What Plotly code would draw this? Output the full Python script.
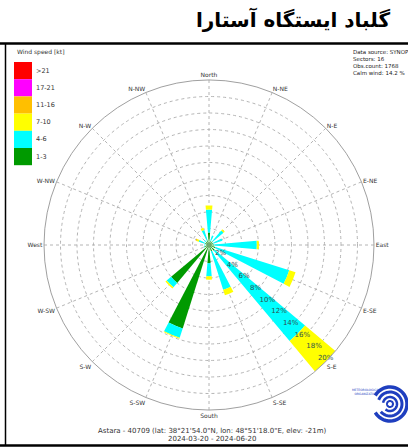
import numpy as np
import plotly.graph_objects as go

W, H = 408, 448

# 16 compass sectors, clockwise from north
directions = ["North", "N-NE", "N-E", "E-NE", "East", "E-SE", "S-E", "S-SE",
              "South", "S-SW", "S-W", "W-SW", "West", "W-NW", "N-W", "N-NW"]

# Frequency (%) of each wind-speed class per sector
speed_classes = ["1-3", "4-6", "7-10", "11-16", "17-21", ">21"]
freq_1_3 = [1.5, 0.5, 0.6, 0.5, 0.6, 0.8, 0.9, 0.8, 2.2, 10.6, 6.0, 0.6, 0.4, 0.5, 0.5, 0.6]
freq_4_6 = [2.8, 0.7, 1.7, 1.2, 5.2, 9.4, 14.3, 4.9, 1.6, 1.2, 0.7, 0.1, 0.2, 0.8, 0.3, 1.3]
freq_7_10 = [0.5, 0.0, 0.2, 0.0, 0.25, 0.8, 4.8, 0.7, 0.4, 0.1, 0.2, 0.0, 0.0, 0.3, 0.0, 0.3]
freq_11_16 = [0, 0, 0, 0, 0, 0, 0, 0, 0, 0, 0, 0, 0, 0.1, 0, 0]
freq_17_21 = [0] * 16
freq_gt21 = [0] * 16
class_colors = ["#009a00", "#00ffff", "#ffff00", "#ffbf00", "#ff00ff", "#ff0000"]

radial_ticks = [2, 4, 6, 8, 10, 12, 14, 16, 18, 20]
radial_label_dir = 135  # compass bearing along which the % scale is written
info_lines = ["Data source: SYNOP", "Sectors: 16", "Obs.count: 1768", "Calm wind: 14.2 %"]
title_text = "گلباد ایستگاه آستارا"
station_line = "Astara - 40709 (lat: 38°21'54.0\"N, lon: 48°51'18.0\"E, elev: -21m)"
period_line = "2024-03-20 - 2024-06-20"

angles = [i * 360 / len(directions) for i in range(len(directions))]
series = [freq_1_3, freq_4_6, freq_7_10, freq_11_16, freq_17_21, freq_gt21]

fig = go.Figure()
for name, vals, col in zip(speed_classes, series, class_colors):
    fig.add_trace(go.Barpolar(
        r=vals, theta=angles, width=[10] * len(angles), name=name,
        marker=dict(color=col, line=dict(width=0)), showlegend=False,
    ))

# percentage scale written on top of the bars
fig.add_trace(go.Scatterpolar(
    r=radial_ticks, theta=[radial_label_dir] * len(radial_ticks),
    text=[f"{v}%" for v in radial_ticks], mode="text", textposition="top center",
    textfont=dict(size=7, color="#2f4f4f", family="DejaVu Sans"),
    showlegend=False, hoverinfo="skip",
))

# polar area in pixels: centre (209, 245), radius 165
cx, cy, R = 209, 245, 165
fig.update_layout(
    width=W, height=H,
    margin=dict(l=0, r=0, t=0, b=0),
    paper_bgcolor="white",
    font=dict(family="DejaVu Sans", size=6, color="#333333"),
    polar=dict(
        domain=dict(x=[(cx - R) / W, (cx + R) / W], y=[1 - (cy + R) / H, 1 - (cy - R) / H]),
        bgcolor="white",
        barmode="stack",
        angularaxis=dict(
            rotation=90, direction="clockwise",
            tickmode="array", tickvals=angles, ticktext=directions,
            showline=True, linecolor="#a0a0a0", linewidth=1,
            showgrid=True, gridcolor="#b4b4b4", griddash="dot", gridwidth=1,
            ticks="", tickfont=dict(size=6, color="#333333"),
        ),
        radialaxis=dict(
            range=[0, 20], angle=-45,
            tickmode="array", tickvals=radial_ticks, showticklabels=False,
            showline=False, ticks="",
            showgrid=True, gridcolor="#b4b4b4", griddash="dot", gridwidth=1,
        ),
    ),
)


def px(x):
    return x / W


def py(y):
    return 1 - y / H


shapes = []
annotations = []

# frame of the picture
shapes.append(dict(type="line", xref="paper", yref="paper", x0=0, x1=1, y0=py(43.5), y1=py(43.5),
                   line=dict(color="black", width=2.5)))
shapes.append(dict(type="line", xref="paper", yref="paper", x0=0, x1=1, y0=py(445.5), y1=py(445.5),
                   line=dict(color="black", width=2.5)))
shapes.append(dict(type="line", xref="paper", yref="paper", x0=px(5.5), x1=px(5.5), y0=py(43.5), y1=py(445.5),
                   line=dict(color="black", width=1.5)))

# wind-speed key
annotations.append(dict(text="Wind speed [kt]", xref="paper", yref="paper", x=px(15), y=py(52),
                        xanchor="left", yanchor="middle", showarrow=False, font=dict(size=6, color="#333")))
key_top, key_h = 62, 17.2
for i, (lab, col) in enumerate(zip(speed_classes[::-1], class_colors[::-1])):
    y0 = key_top + i * key_h
    shapes.append(dict(type="rect", xref="paper", yref="paper", x0=px(14), x1=px(32),
                       y0=py(y0), y1=py(y0 + key_h), fillcolor=col, line=dict(width=0)))
    annotations.append(dict(text=lab, xref="paper", yref="paper", x=px(34), y=py(y0 + key_h / 2),
                            xanchor="left", yanchor="middle", showarrow=False,
                            font=dict(size=6.5, color="#333")))

# station info block
annotations.append(dict(text="<br>".join(info_lines), xref="paper", yref="paper", x=px(351), y=py(47),
                        xanchor="left", yanchor="top", align="left", showarrow=False,
                        font=dict(size=5.5, color="#222")))

# heading
annotations.append(dict(text="<b>" + title_text + "</b>", xref="paper", yref="paper", x=px(392), y=py(20),
                        xanchor="right", yanchor="middle", showarrow=False,
                        font=dict(family="DejaVu Sans", size=20, color="black")))

# footer
annotations.append(dict(text=station_line, xref="paper", yref="paper", x=px(212), y=py(430.5),
                        xanchor="center", yanchor="middle", showarrow=False, font=dict(size=7, color="#333")))
annotations.append(dict(text=period_line, xref="paper", yref="paper", x=px(212), y=py(439),
                        xanchor="center", yanchor="middle", showarrow=False, font=dict(size=7, color="#333")))


# organisation emblem: blue spiral arcs
def arc_path(ccx, ccy, r, a0, a1, n=40):
    t = np.radians(np.linspace(a0, a1, n))
    xs = ccx + r * np.cos(t)
    ys = ccy - r * np.sin(t)
    pts = [f"{px(x):.5f},{py(y):.5f}" for x, y in zip(xs, ys)]
    return "M" + " L".join(pts)


lcx, lcy = 390, 404
for r, a0, a1, w in [(17, -150, 150, 3.5), (12, -140, 160, 3), (7, -130, 170, 2.5), (3, 0, 360, 2)]:
    shapes.append(dict(type="path", xref="paper", yref="paper", path=arc_path(lcx, lcy, r, a0, a1),
                       line=dict(color="#1f3fbf", width=w)))
annotations.append(dict(text="METEOROLOGICAL<br>ORGANIZATION", xref="paper", yref="paper",
                        x=px(366), y=py(392), xanchor="center", yanchor="middle", showarrow=False,
                        font=dict(size=3, color="#1f3fbf")))

fig.update_layout(shapes=shapes, annotations=annotations)
fig.write_html("out.html")
